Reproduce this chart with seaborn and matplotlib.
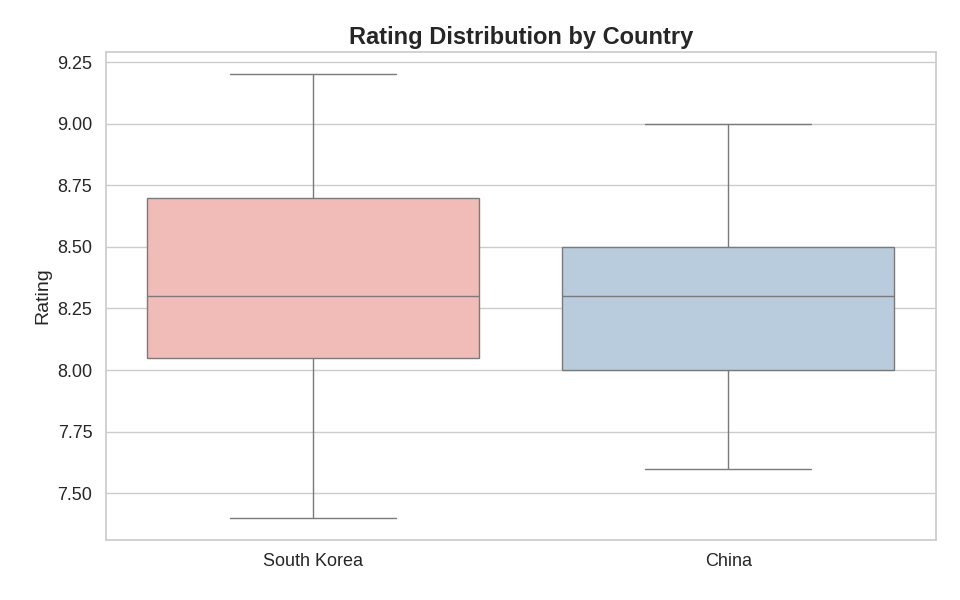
import pandas as pd
import seaborn as sns
import matplotlib.pyplot as plt

countries = ["South Korea"] * 5 + ["China"] * 5
ratings = [7.4, 8.05, 8.3, 8.7, 9.2,
           7.6, 8.0, 8.3, 8.5, 9.0]

df = pd.DataFrame({"Country": countries, "Rating": ratings})

sns.set_theme(style="whitegrid")
plt.rcParams['font.family'] = ['Liberation Sans', 'DejaVu Sans']
fig, ax = plt.subplots(figsize=(9.6, 6), dpi=100)
sns.boxplot(data=df, x="Country", y="Rating", hue="Country",
            palette="Pastel1", legend=False, ax=ax)
ax.set_title("Rating Distribution by Country", fontsize=17, fontweight="bold")
ax.set_xlabel("")
ax.set_ylabel("Rating", fontsize=14)
ax.tick_params(labelsize=13)
fig.subplots_adjust(left=0.11, right=0.975, top=0.913, bottom=0.1)
plt.savefig("out.png")
